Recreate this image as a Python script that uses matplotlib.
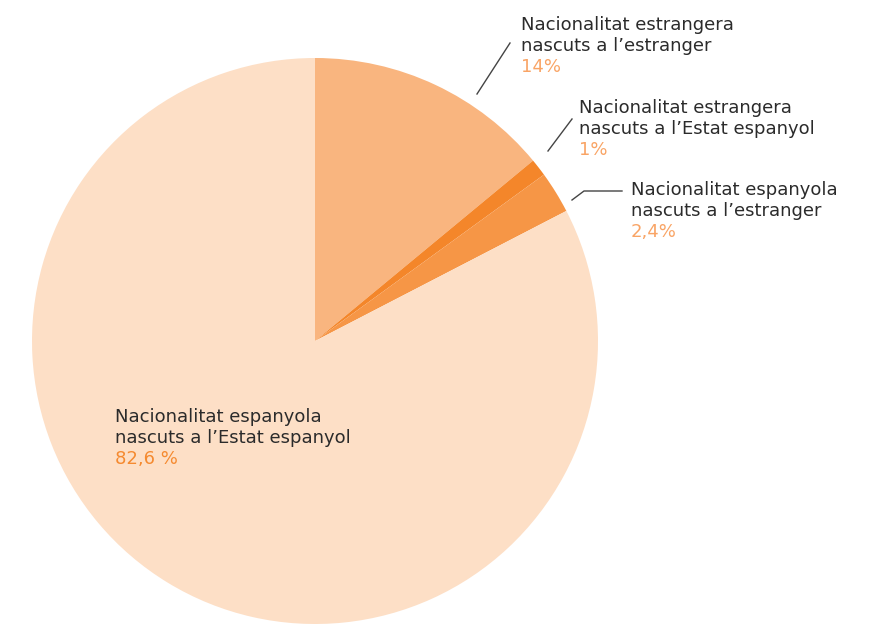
import matplotlib.pyplot as plt

# percentatges de població segons nacionalitat i lloc de naixement
shares = [14, 1, 2.4, 82.6]
titles = [
    ["Nacionalitat estrangera", "nascuts a l\u2019estranger"],
    ["Nacionalitat estrangera", "nascuts a l\u2019Estat espanyol"],
    ["Nacionalitat espanyola", "nascuts a l\u2019estranger"],
    ["Nacionalitat espanyola", "nascuts a l\u2019Estat espanyol"],
]
pct_labels = ["14%", "1%", "2,4%", "82,6 %"]
colors = ["#F9B57F", "#F4862A", "#F69646", "#FDDFC6"]
pct_colors = ["#F9A465", "#F9A465", "#F9A465", "#F58A30"]

W, H = 875, 624
fig = plt.figure(figsize=(W / 100, H / 100), dpi=100)
ax = fig.add_axes([0, 0, 1, 1])

cx, cy, r = 315, H - 341, 283
ax.pie(shares, colors=colors, startangle=90, counterclock=False,
       center=(cx, cy), radius=r, frame=True,
       wedgeprops=dict(linewidth=0))
ax.set_xlim(0, W)
ax.set_ylim(0, H)
ax.set_aspect("equal")
ax.axis("off")

# text positions (pixel, from top) of first baseline
text_pos = [(521, 30), (579, 113), (631, 195), (115, 422)]
step = 21
for (tx, ty), lines, pct, pc in zip(text_pos, titles, pct_labels, pct_colors):
    for k, line in enumerate(lines):
        ax.text(tx, H - (ty + k * step), line, fontsize=13, color="#2B2B2B",
                va="baseline", ha="left")
    ax.text(tx, H - (ty + 2 * step), pct, fontsize=13, color=pc,
            va="baseline", ha="left")

# leader lines
leaders = [
    [(477, 94), (510, 43)],
    [(548, 151), (572, 119)],
    [(572, 200), (584, 191), (622, 191)],
]
for pts in leaders:
    xs = [p[0] for p in pts]
    ys = [H - p[1] for p in pts]
    ax.plot(xs, ys, color="#444444", linewidth=1)

fig.savefig("out.png", dpi=100)
